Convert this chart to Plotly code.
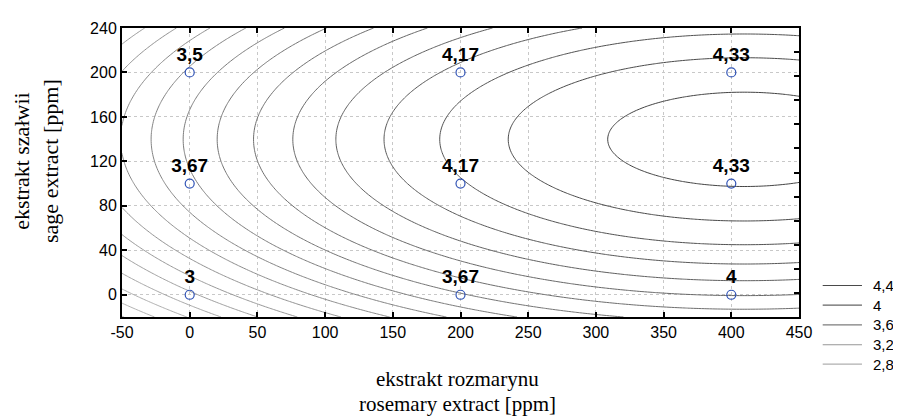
import numpy as np
import plotly.graph_objects as go

# ---- data ----
rosemary_ppm = [0, 200, 400, 0, 200, 400, 0, 200, 400]
sage_ppm = [0, 0, 0, 100, 100, 100, 200, 200, 200]
score = [3.0, 3.67, 4.0, 3.67, 4.17, 4.33, 3.5, 4.17, 4.33]
score_labels = ["3", "3,67", "4", "3,67", "4,17", "4,33", "3,5", "4,17", "4,33"]

x_ticks = [-50, 0, 50, 100, 150, 200, 250, 300, 350, 400, 450]
x_tick_text = ["-50", "0", "50", "100", "150", "200", "250", "300", "350", "400", "450"]
y_ticks = [0, 40, 80, 120, 160, 200, 240]
y_tick_text = ["0", "40", "80", "120", "160", "200", "240"]

legend_levels = [4.4, 4.0, 3.6, 3.2, 2.8]
legend_text = ["4,4", "4", "3,6", "3,2", "2,8"]

# ---- quadratic response surface (no interaction term) fitted to the points ----
xa = np.array(rosemary_ppm, float)
ya = np.array(sage_ppm, float)
za = np.array(score, float)
A = np.column_stack([np.ones_like(xa), xa, ya, xa**2, ya**2])
coef, *_ = np.linalg.lstsq(A, za, rcond=None)
gx = np.linspace(-50, 450, 251)
gy = np.linspace(-20, 240, 131)
GX, GY = np.meshgrid(gx, gy)
Z = coef[0] + coef[1]*GX + coef[2]*GY + coef[3]*GX**2 + coef[4]*GY**2

ZMIN, ZMAX = 2.6, 4.5
LIGHT = np.array([0xbc, 0xbc, 0xbc])
DARK = np.array([0x44, 0x44, 0x44])

def gray(v):
    t = (v - ZMIN) / (ZMAX - ZMIN)
    c = (LIGHT + (DARK - LIGHT) * t).round().astype(int)
    return "rgb(%d,%d,%d)" % tuple(c)

fig = go.Figure()
fig.add_trace(go.Contour(
    x=gx, y=gy, z=Z,
    zmin=ZMIN, zmax=ZMAX, zauto=False, autocontour=False,
    contours=dict(start=2.7, end=4.41, size=0.1, coloring="lines", showlabels=False),
    colorscale=[[0, gray(ZMIN)], [1, gray(ZMAX)]],
    line=dict(width=1),
    showscale=False, hoverinfo="skip",
))
fig.add_trace(go.Scatter(
    x=rosemary_ppm, y=sage_ppm, mode="markers+text",
    text=score_labels, textposition="top center",
    textfont=dict(family="Arial, Liberation Sans", size=19, color="black", weight="bold"),
    marker=dict(symbol="circle-open", size=9, color="#2f52b5", line=dict(width=1.2)),
    showlegend=False, hoverinfo="skip", cliponaxis=False,
))
# invisible trace to host the right-hand tick axis
fig.add_trace(go.Scatter(x=[None], y=[None], yaxis="y2", showlegend=False, hoverinfo="skip"))

tickfont = dict(family="Arial, Liberation Sans", size=16, color="black")
fig.update_layout(
    width=893, height=410,
    margin=dict(l=114, r=102, t=16, b=101),
    plot_bgcolor="white", paper_bgcolor="white",
    showlegend=False,
    xaxis=dict(range=[-50, 450], tickvals=x_ticks, ticktext=x_tick_text,
               ticks="inside", ticklen=5, tickwidth=1.5, tickcolor="black",
               showline=True, linewidth=2, linecolor="black", mirror="ticks",
               showgrid=True, gridcolor="#c8c8c8", griddash="dot", gridwidth=1,
               zeroline=False, tickfont=tickfont),
    yaxis=dict(range=[-20, 240], tickvals=y_ticks, ticktext=y_tick_text,
               ticks="inside", ticklen=5, tickwidth=1.5, tickcolor="black",
               showline=True, linewidth=2, linecolor="black", mirror=True,
               showgrid=True, gridcolor="#c8c8c8", griddash="dot", gridwidth=1,
               zeroline=False, tickfont=tickfont),
    yaxis2=dict(overlaying="y", side="right", range=[0, 12],
                tickvals=list(range(1, 12)), ticks="inside", ticklen=5,
                tickwidth=1.5, tickcolor="black", showticklabels=False,
                showgrid=False, zeroline=False, showline=False),
)

serif = dict(family="Liberation Serif, Times New Roman, serif", size=21, color="black")
fig.add_annotation(xref="paper", yref="paper", x=0.496, y=-0.214, xanchor="center",
                   yanchor="middle", showarrow=False, font=serif,
                   text="ekstrakt rozmarynu")
fig.add_annotation(xref="paper", yref="paper", x=0.496, y=-0.302, xanchor="center",
                   yanchor="middle", showarrow=False, font=serif,
                   text="rosemary extract [ppm]")
fig.add_annotation(xref="paper", yref="paper", x=-0.127, y=0.54, xanchor="center",
                   yanchor="middle", showarrow=False, font=dict(serif, size=22), textangle=-90,
                   text="ekstrakt szałwii<br>sage extract [ppm]")

# manual legend
row_y = [0.109, 0.041, -0.027, -0.096, -0.163]
for lv, lt, yy in zip(legend_levels, legend_text, row_y):
    fig.add_shape(type="line", xref="paper", yref="paper", x0=1.035, x1=1.093,
                  y0=yy, y1=yy, line=dict(color=gray(lv), width=1.2))
    fig.add_annotation(xref="paper", yref="paper", x=1.106, y=yy, xanchor="left",
                       yanchor="middle", showarrow=False, text=lt,
                       font=dict(family="Arial, Liberation Sans", size=15, color="black"))

fig.write_html("out.html")
